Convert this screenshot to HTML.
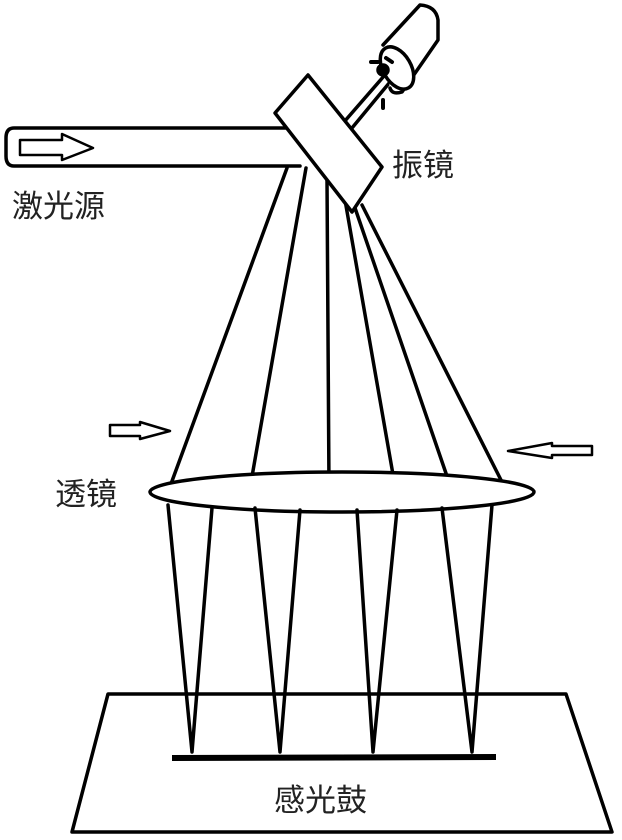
<!DOCTYPE html>
<html><head><meta charset="utf-8"><style>
html,body{margin:0;padding:0;background:#fff;}
svg{display:block;}
text{font-family:"Liberation Sans","Noto Sans CJK SC",sans-serif;font-size:31px;fill:#222;}
</style></head><body>
<svg width="622" height="840" viewBox="0 0 622 840" xmlns="http://www.w3.org/2000/svg">
<g stroke="#000" stroke-width="3.5" fill="none" stroke-linecap="round" stroke-linejoin="round">
<polyline points="72,832 108,694 566,694 612,832 72,832" fill="#fff"/>
<line x1="287" y1="168" x2="168" y2="492"/>
<line x1="306" y1="168" x2="250" y2="488"/>
<line x1="327" y1="180" x2="329" y2="488"/>
<line x1="345" y1="200" x2="395" y2="486"/>
<line x1="354" y1="205" x2="450" y2="485"/>
<line x1="362" y1="205" x2="502" y2="482"/>
<ellipse cx="342" cy="492" rx="192" ry="20" fill="#fff"/>
<polyline points="168,505 192,752 212,508"/>
<polyline points="255,508 280,752 300,510"/>
<polyline points="357,510 373,752 397,510"/>
<polyline points="442,508 472,752 492,505"/>
<line x1="172" y1="758" x2="496" y2="757" stroke-width="6" stroke-linecap="butt"/>
<path d="M300,128 L14,128 Q6,128 6,138 L6,156 Q6,166 14,166 L300,166" fill="#fff"/>
<polygon points="20,140 62,140 62,134 93,148 62,160 62,155 20,155" stroke-width="2.5"/>
<line x1="344" y1="122" x2="384" y2="76"/>
<line x1="352" y1="128" x2="390" y2="82"/>
<path d="M383,45 L420,5 Q436,6 438,20 L438,40 L402,92 Q392,95 390,88" fill="#fff"/>
<ellipse cx="397" cy="68" rx="14" ry="23" transform="rotate(-30 397 68)" fill="#fff"/>
<circle cx="383" cy="70" r="5" fill="#000"/>
<path d="M371,62 L378,62 M383,100 L383,108 M386,58 L392,62" stroke-width="4"/>
<polygon points="308,75 382,167 352,212 275,113" fill="#fff"/>
<polygon points="110,425 140,425 140,422 170,431 140,439 140,436 110,436" stroke-width="2.5"/>
<polygon points="592,446 552,446 552,443 508,451 552,458 552,455 592,455" stroke-width="2.5"/>
</g>
<text x="12" y="217">激光源</text>
<text x="392" y="176">振镜</text>
<text x="55" y="505">透镜</text>
<text x="274" y="811">感光鼓</text>
</svg>
</body></html>
